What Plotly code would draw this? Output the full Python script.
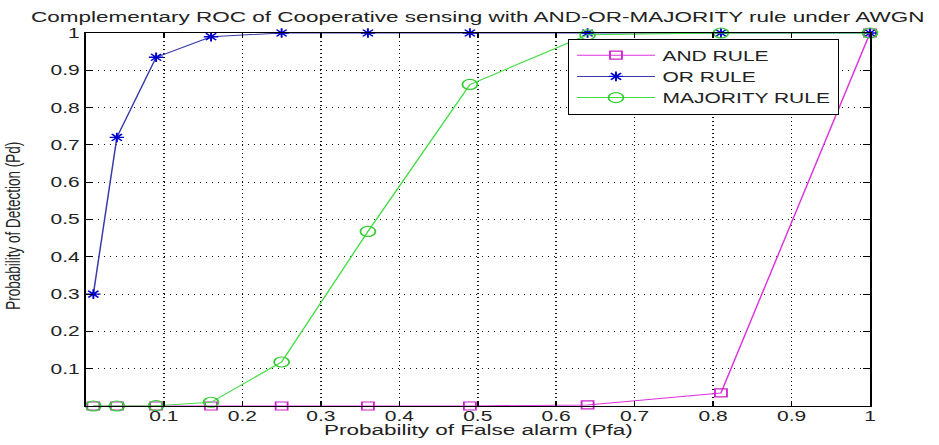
import plotly.graph_objects as go

# Cooperative spectrum sensing: complementary ROC for the three fusion rules
pfa = [0.01, 0.04, 0.09, 0.16, 0.25, 0.36, 0.49, 0.64, 0.81, 1.0]
pd_and = [0.0, 0.0, 0.0, 0.0, 0.0, 0.0, 0.0, 0.003, 0.035, 1.0]
pd_or = [0.30, 0.72, 0.935, 0.99, 1.0, 1.0, 1.0, 1.0, 1.0, 1.0]
pd_majority = [0.0, 0.0, 0.001, 0.01, 0.118, 0.468, 0.862, 0.995, 1.0, 1.0]

tick_vals = [0.1, 0.2, 0.3, 0.4, 0.5, 0.6, 0.7, 0.8, 0.9, 1.0]
tick_text = ["0.1", "0.2", "0.3", "0.4", "0.5", "0.6", "0.7", "0.8", "0.9", "1"]

x_title = "Probability of False alarm (Pfa)"
y_title = "Probability of Detection (Pd)"

# the page is drawn narrow and widened horizontally by this factor
STRETCH = 1.5
W, H = 626, 445
FONT = "Liberation Sans, Arial, sans-serif"
TEXT = "#222222"

fig = go.Figure()
fig.add_trace(go.Scatter(
    x=pfa, y=pd_and, mode="lines+markers", name="AND RULE",
    line=dict(color="#dd33dd", width=1),
    marker=dict(symbol="square-open", size=8, color="#cc22cc", line=dict(width=1.2)),
    cliponaxis=False,
))
fig.add_trace(go.Scatter(
    x=pfa, y=pd_or, mode="lines+markers", name="OR RULE",
    line=dict(color="#3a3aaa", width=1),
    marker=dict(symbol="asterisk-open", size=8, color="#0000cc", line=dict(width=1.3, color="#0000cc")),
    cliponaxis=False,
))
fig.add_trace(go.Scatter(
    x=pfa, y=pd_majority, mode="lines+markers", name="MAJORITY RULE",
    line=dict(color="#44dd44", width=1),
    marker=dict(symbol="circle-open", size=10, color="#33cc33", line=dict(width=1.2)),
    cliponaxis=False,
))

axis_common = dict(
    range=[0, 1], tickvals=tick_vals, ticktext=tick_text,
    showline=True, linecolor="black", linewidth=1, mirror="ticks",
    ticks="inside", ticklen=5, tickcolor="black", tickwidth=1,
    showgrid=True, gridcolor="#111111", gridwidth=1, griddash="1px,3px",
    zeroline=False, automargin=False,
    tickfont=dict(family=FONT, size=14, color=TEXT),
)

fig.update_layout(
    width=W, height=H,
    margin=dict(l=57, r=46, t=33, b=39),
    paper_bgcolor="white", plot_bgcolor="white",
    title=dict(
        text="Complementary ROC of Cooperative sensing with AND-OR-MAJORITY rule under AWGN",
        x=0.5, xref="paper", xanchor="center",
        y=1 - 17 / H, yref="container", yanchor="middle",
        font=dict(family=FONT, size=15, color=TEXT),
    ),
    xaxis=dict(**axis_common, ticklabelstandoff=-3),
    yaxis=dict(**axis_common),
    legend=dict(
        x=0.615, y=0.985, xanchor="left", yanchor="top",
        bgcolor="white", bordercolor="black", borderwidth=1,
        font=dict(family=FONT, size=14, color=TEXT),
        itemwidth=52, tracegroupgap=0,
    ),
    showlegend=True,
)

# axis titles placed under / beside the frame
fig.add_annotation(
    text=x_title, xref="paper", yref="paper", x=0.5, y=-0.063,
    xanchor="center", yanchor="middle", showarrow=False,
    font=dict(family=FONT, size=15, color=TEXT),
)
fig.add_annotation(
    text=y_title, xref="paper", yref="paper", x=-0.092, y=0.483,
    xanchor="center", yanchor="middle", showarrow=False, textangle=-90,
    font=dict(family=FONT, size=13.5, color=TEXT),
)

stretch_js = (
    "document.body.style.margin='0';"
    "document.body.style.overflow='hidden';"
    "var gd=document.getElementById('{plot_id}');"
    "gd.style.transformOrigin='0 0';"
    "gd.style.transform='scaleX(" + str(STRETCH) + ")';"
)

fig.write_html("out.html", post_script=stretch_js)
